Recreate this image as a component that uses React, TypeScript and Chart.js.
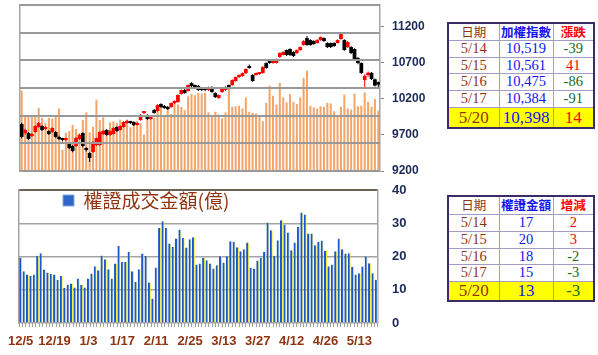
import React, { useEffect, useRef } from 'react';
import { Chart, registerables } from 'chart.js';

Chart.register(...registerables);

// ---------- data ----------
const DATES = ['12/5','12/6','12/7','12/10','12/11','12/12','12/13','12/14','12/17','12/18','12/19','12/20','12/21','12/22','12/24','12/25','12/26','12/27','12/28','1/2','1/3','1/4','1/7','1/8','1/9','1/10','1/11','1/14','1/15','1/16','1/17','1/18','1/21','1/22','1/23','1/24','1/25','1/28','1/29','1/30','2/11','2/12','2/13','2/14','2/15','2/18','2/19','2/20','2/21','2/22','2/25','2/26','2/27','3/4','3/5','3/6','3/7','3/8','3/11','3/12','3/13','3/14','3/15','3/18','3/19','3/20','3/21','3/22','3/25','3/26','3/27','3/28','3/29','4/1','4/2','4/3','4/8','4/9','4/10','4/11','4/12','4/15','4/16','4/17','4/18','4/19','4/22','4/23','4/24','4/25','4/26','4/29','4/30','5/2','5/3','5/6','5/7','5/8','5/9','5/10','5/13','5/14','5/15','5/16','5/17','5/20'];

const SHOWN_LABELS = ['12/5','12/19','1/3','1/17','2/11','2/25','3/13','3/27','4/12','4/26','5/13'];

const OPEN = [
  9851, 9726, 9726, 9685, 9740, 9809, 9823, 9782, 9754, 9740,
  9740, 9671, 9643, 9629, 9574, 9546, 9546, 9643, 9726, 9519,
  9449, 9463, 9560, 9560, 9712, 9768, 9699, 9712, 9809, 9768,
  9809, 9865, 9879, 9879, 9837, 9906, 10003, 9976, 9920, 10045,
  10031, 10128, 10100, 10086, 10086, 10142, 10156, 10266, 10322, 10308,
  10418, 10391, 10377, 10350, 10336, 10322, 10363, 10280, 10211, 10294,
  10322, 10391, 10391, 10447, 10502, 10516, 10557, 10640, 10530, 10530,
  10543, 10557, 10696, 10710, 10696, 10696, 10779, 10807, 10876, 10890,
  10848, 10834, 10876, 10945, 11042, 11014, 11000, 10973, 11014, 11042,
  10973, 10973, 10973, 10973, 11028, 11014, 10917, 10917, 10890, 10765,
  10696, 10460, 10530, 10560, 10470, 10430,
];

const CLOSE = [
  9671, 9768, 9643, 9712, 9823, 9865, 9768, 9809, 9712, 9796,
  9671, 9643, 9629, 9643, 9519, 9477, 9657, 9699, 9546, 9491,
  9380, 9602, 9657, 9740, 9754, 9699, 9754, 9796, 9754, 9823,
  9879, 9893, 9865, 9837, 9865, 9976, 10017, 9920, 9962, 10003,
  10114, 10086, 10073, 10059, 10142, 10170, 10253, 10322, 10280, 10391,
  10377, 10363, 10322, 10322, 10322, 10363, 10294, 10225, 10253, 10350,
  10363, 10350, 10460, 10502, 10530, 10557, 10613, 10627, 10447, 10557,
  10557, 10640, 10627, 10696, 10710, 10751, 10834, 10848, 10807, 10807,
  10793, 10876, 10917, 11000, 10945, 10945, 10959, 11014, 11056, 11000,
  10917, 10917, 10931, 11014, 11097, 10876, 10987, 10834, 10737, 10696,
  10558, 10519, 10561, 10475, 10384, 10398,
];

const HIGH = [
  9870, 9785, 9740, 9725, 9835, 9880, 9835, 9820, 9765, 9805,
  9750, 9690, 9660, 9655, 9590, 9560, 9670, 9715, 9735, 9530,
  9460, 9615, 9665, 9750, 9770, 9780, 9765, 9805, 9820, 9830,
  9890, 9905, 9895, 9890, 9875, 9990, 10030, 9985, 9975, 10060,
  10125, 10140, 10115, 10100, 10150, 10180, 10260, 10330, 10335, 10400,
  10430, 10400, 10390, 10360, 10345, 10370, 10375, 10290, 10260, 10360,
  10375, 10400, 10470, 10510, 10540, 10565, 10625, 10675, 10540, 10565,
  10570, 10650, 10705, 10725, 10720, 10760, 10845, 10860, 10885, 10900,
  10860, 10885, 10925, 11010, 11070, 11025, 11010, 11025, 11065, 11050,
  10985, 10980, 10985, 11025, 11111, 11025, 11000, 10930, 10900, 10780,
  10705, 10540, 10580, 10570, 10480, 10440,
];

const LOW = [
  9655, 9705, 9630, 9670, 9730, 9800, 9755, 9770, 9700, 9730,
  9660, 9630, 9610, 9615, 9505, 9460, 9535, 9630, 9530, 9470,
  9325, 9450, 9550, 9550, 9700, 9690, 9690, 9705, 9745, 9760,
  9800, 9855, 9850, 9825, 9830, 9895, 9990, 9905, 9910, 9995,
  10020, 10075, 10060, 10045, 10075, 10130, 10145, 10255, 10270, 10300,
  10365, 10350, 10310, 10310, 10305, 10310, 10285, 10210, 10200, 10285,
  10310, 10340, 10380, 10440, 10490, 10505, 10545, 10615, 10435, 10520,
  10535, 10550, 10615, 10685, 10685, 10690, 10770, 10800, 10795, 10795,
  10780, 10825, 10865, 10935, 10935, 10935, 10950, 10965, 11005, 10990,
  10905, 10905, 10920, 10965, 11020, 10865, 10905, 10820, 10725, 10680,
  10545, 10363, 10505, 10460, 10370, 10360,
];

const INDEX_VOLUME = [
  1450, 990, 1000, 975, 1010, 1140, 960, 870, 960, 945,
  975, 1130, 380, 690, 720, 830, 760, 680, 920, 1060,
  700, 800, 1290, 920, 970, 760, 880, 900, 870, 930,
  880, 930, 790, 830, 900, 860, 660, 930, 1010, 960,
  1130, 1200, 1000, 1150, 1030, 1240, 1200, 1160, 1100, 1350,
  1390, 1370, 1410, 1400, 1410, 1060, 1010, 1070, 1020, 950,
  1060, 1510, 1160, 1170, 1180, 1130, 1330, 1070, 1050, 1040,
  1010, 900, 1230, 1540, 1360, 1200, 1590, 1330, 1240, 1390,
  1250, 1210, 1330, 1680, 1810, 1180, 1150, 1130, 1170, 1160,
  1230, 1220, 1080, 1000, 1160, 1380, 1130, 1110, 1400, 1170,
  1180, 1420, 1250, 1160, 1300, 1090,
];

const WARRANT_VALUE = [
  19.6, 15.6, 14.6, 14.2, 14.6, 20.2, 21.0, 16.1, 15.2, 14.7,
  14.6, 12.9, 14.1, 10.6, 11.6, 11.9, 10.7, 13.4, 11.4, 10.7,
  13.4, 14.9, 17.1, 15.9, 20.3, 19.2, 16.2, 13.4, 17.9, 23.2,
  18.4, 18.4, 21.4, 15.6, 12.4, 16.2, 20.9, 20.2, 12.2, 7.4,
  16.7, 28.6, 30.6, 28.6, 23.9, 22.9, 25.4, 28.1, 25.6, 22.7,
  25.2, 25.8,
  17.6, 17.9, 19.6, 18.9, 17.9, 16.4, 17.4, 20.1, 18.2, 20.1,
  24.6, 24.4, 22.8, 21.6, 22.2, 24.2, 16.7, 16.4, 18.8, 19.6,
  21.4, 30.2, 27.9, 20.2, 24.9, 30.9, 29.6, 27.2, 21.9, 24.2,
  28.9, 33.2, 32.6, 26.9, 26.9, 23.4, 24.4, 24.8, 21.7, 17.1,
  17.6, 21.6, 25.4, 22.2, 20.9, 21.0, 16.9, 14.6,
  15, 17, 20, 18, 15, 13,
];

const PRICE_TICKS = [9200, 9700, 10200, 10700, 11200];
const VOLUME_GRID = [0, 500, 1000, 1500, 2000, 2500, 3000];
const WARRANT_LEGEND = '權證成交金額(億)';

const T1_HEAD = ['日期', '加權指數', '漲跌'];
const T1_DATES = ['5/14', '5/15', '5/16', '5/17', '5/20'];
const T1_INDEX = [10519, 10561, 10475, 10384, 10398];
const T1_CHANGE = [-39, 41, -86, -91, 14];

const T2_HEAD = ['日期', '權證金額', '增減'];
const T2_DATES = ['5/14', '5/15', '5/16', '5/17', '5/20'];
const T2_VALUE = [17, 20, 18, 15, 13];
const T2_CHANGE = [2, 3, -2, -3, -3];

// ---------- styles ----------
const AXIS_FONT = 'Liberation Sans';
const NAVY = '#1d2a57';
const BROWN = '#8f3411';
const GRID = '#a4a4a4';
const TOP_GRID = '#999999';
const CJK = '"Noto Sans CJK TC", "Noto Sans CJK SC", sans-serif';
const SERIF = '"Liberation Serif", "DejaVu Serif", serif';

function TopChart() {
  const ref = useRef<HTMLCanvasElement>(null);
  useEffect(() => {
    if (!ref.current) return;
    const candleColors = OPEN.map((o, i) => (CLOSE[i] >= o ? '#ff0000' : '#000000'));
    // horizontal grid of the hidden volume axis, placed through that scale
    const volumeGrid = {
      id: 'volumeGrid',
      afterDatasetsDraw(chart: any) {
        const s = chart.scales.yv;
        const a = chart.chartArea;
        const ctx = chart.ctx;
        ctx.save();
        ctx.strokeStyle = TOP_GRID;
        ctx.lineWidth = 2;
        VOLUME_GRID.forEach((v) => {
          const y = Math.round(s.getPixelForValue(v));
          ctx.beginPath();
          ctx.moveTo(a.left, y);
          ctx.lineTo(a.right, y);
          ctx.stroke();
        });
        ctx.restore();
      },
    };
    const chart = new Chart(ref.current, {
      type: 'bar',
      data: {
        labels: DATES,
        datasets: [
          {
            label: 'body',
            data: OPEN.map((o, i) => [o, CLOSE[i]]) as any,
            yAxisID: 'yp',
            backgroundColor: candleColors,
            barPercentage: 1.1,
            categoryPercentage: 1,
            grouped: false,
            order: 1,
            minBarLength: 2,
          } as any,
          {
            label: 'wick',
            data: LOW.map((l, i) => [l, HIGH[i]]) as any,
            yAxisID: 'yp',
            backgroundColor: candleColors,
            barPercentage: 0.3,
            categoryPercentage: 1,
            grouped: false,
            order: 2,
          } as any,
          {
            label: 'volume',
            data: INDEX_VOLUME,
            yAxisID: 'yv',
            backgroundColor: '#f3a56a',
            barPercentage: 0.6,
            categoryPercentage: 1,
            grouped: false,
            order: 3,
          } as any,
        ],
      },
      options: {
        animation: false,
        responsive: false,
        layout: { padding: { left: 20, top: 5, right: 0, bottom: 9 } },
        plugins: { legend: { display: false }, tooltip: { enabled: false } },
        scales: {
          x: { display: false, offset: true },
          yv: {
            position: 'left',
            min: 0,
            max: 3000,
            ticks: { display: false },
            grid: { display: false },
            border: { display: true, color: GRID, width: 1.5 },
            afterFit: (s: any) => { s.width = 0; s.paddingTop = 0; s.paddingBottom = 0; },
          },
          yp: {
            position: 'right',
            min: 9200,
            max: 11500,
            afterBuildTicks: (s: any) => { s.ticks = PRICE_TICKS.map((v) => ({ value: v })); },
            ticks: {
              color: NAVY,
              padding: 8,
              font: { family: AXIS_FONT, size: 12, weight: 'bold' },
              callback: (v: any) => String(v),
            },
            grid: { drawOnChartArea: false, tickLength: 4, color: '#8a8a8a' },
            border: { display: true, color: GRID, width: 1.5 },
            afterFit: (s: any) => { s.width = 60; s.paddingTop = 0; s.paddingBottom = 0; },
          },
        },
      } as any,
      plugins: [volumeGrid],
    });
    return () => chart.destroy();
  }, []);
  return (
    <canvas ref={ref} width={440} height={180}
      style={{ position: 'absolute', left: 0, top: 0, width: 440, height: 180 }} />
  );
}

function BottomChart() {
  const ref = useRef<HTMLCanvasElement>(null);
  useEffect(() => {
    if (!ref.current) return;
    const legendShift = {
      id: 'legendShift',
      afterLayout(chart: any) {
        const l = chart.legend;
        if (!l) return;
        const w = l.width;
        const h = l.height;
        l.left = chart.chartArea.left + 40;
        l.right = l.left + w;
        l.top = chart.chartArea.top - 3;
        l.bottom = l.top + h;
      },
    };
    const chart = new Chart(ref.current, {
      type: 'bar',
      data: {
        labels: DATES,
        datasets: [
          {
            label: WARRANT_LEGEND,
            data: WARRANT_VALUE,
            yAxisID: 'y',
            backgroundColor: '#1c57cc',
            borderColor: '#f4ee48',
            borderWidth: { left: 0, right: 1, top: 0, bottom: 0 },
            barPercentage: 0.88,
            categoryPercentage: 1,
          } as any,
        ],
      },
      options: {
        animation: false,
        responsive: false,
        layout: { padding: { left: 19, top: 10, right: 0, bottom: 0 } },
        plugins: {
          tooltip: { enabled: false },
          legend: {
            position: 'chartArea',
            align: 'start',
            labels: {
              boxWidth: 11,
              boxHeight: 11,
              padding: 4,
              color: BROWN,
              font: { family: CJK, size: 19 },
              generateLabels: () => [
                {
                  text: WARRANT_LEGEND,
                  fillStyle: '#2f66c6',
                  strokeStyle: '#7ea6e2',
                  lineWidth: 1,
                  hidden: false,
                  datasetIndex: 0,
                  fontColor: BROWN,
                },
              ],
            },
          },
        },
        scales: {
          x: {
            offset: true,
            ticks: {
              autoSkip: false,
              maxRotation: 0,
              minRotation: 0,
              padding: 7,
              color: BROWN,
              font: { family: AXIS_FONT, size: 13, weight: 'bold' },
              callback: (_v: any, i: number) => (SHOWN_LABELS.includes(DATES[i]) ? DATES[i] : ''),
            },
            grid: { drawOnChartArea: false, tickLength: 4, color: '#a0a0a0' },
            border: { display: false },
            afterFit: (s: any) => { s.height = 32; s.paddingLeft = 0; s.paddingRight = 0; },
          },
          yl: {
            position: 'left',
            min: 0,
            max: 40,
            ticks: { display: false },
            grid: { display: false },
            border: { display: true, color: GRID, width: 1.5 },
            afterFit: (s: any) => { s.width = 0; s.paddingTop = 0; s.paddingBottom = 0; },
          },
          y: {
            position: 'right',
            min: 0,
            max: 40,
            ticks: {
              stepSize: 10,
              padding: 14,
              color: NAVY,
              font: { family: AXIS_FONT, size: 13, weight: 'bold' },
            },
            grid: {
              drawTicks: false,
              color: (c: any) => (c.tick && c.tick.value === 40 ? '#6e6353' : GRID),
              lineWidth: (c: any) => (c.tick && c.tick.value === 40 ? 2 : 1.5),
            },
            border: { display: true, color: GRID, width: 1.5 },
            afterFit: (s: any) => { s.width = 62; s.paddingTop = 0; s.paddingBottom = 0; },
          },
        },
      } as any,
      plugins: [legendShift],
    });
    return () => chart.destroy();
  }, []);
  return (
    <canvas ref={ref} width={440} height={175}
      style={{ position: 'absolute', left: 0, top: 180, width: 440, height: 175 }} />
  );
}

const RED = '#ff0000';
const GREEN = '#1b6b1b';
const BLUE = '#1414f0';

function InfoTable(props: {
  left: number; top: number; rowHeights: number[]; head: string[];
  dates: string[]; values: string[]; changes: number[];
}) {
  const { left, top, rowHeights, head, dates, values, changes } = props;
  const headColors = [BROWN, BLUE, RED];
  const cellBase: React.CSSProperties = {
    border: '1px solid #a39bc6',
    padding: 0,
    textAlign: 'center',
    verticalAlign: 'middle',
    lineHeight: 1,
    whiteSpace: 'nowrap',
    overflow: 'hidden',
  };
  return (
    <table style={{
      position: 'absolute', left, top, width: 146, borderCollapse: 'collapse',
      tableLayout: 'fixed', border: '2px solid #3a2c6b', background: '#ffffff',
    }}>
      <colgroup>
        <col style={{ width: 51 }} />
        <col style={{ width: 54 }} />
        <col style={{ width: 41 }} />
      </colgroup>
      <tbody>
        <tr style={{ height: rowHeights[0] }}>
          {head.map((h, j) => (
            <td key={j} style={{
              ...cellBase, color: headColors[j], fontFamily: CJK, fontSize: 12.5,
              fontWeight: j === 0 ? 400 : 700,
            }}>{h}</td>
          ))}
        </tr>
        {dates.map((d, i) => {
          const last = i === dates.length - 1;
          const size = last ? 17 : 14.5;
          const bg = last ? '#ffff00' : '#ffffff';
          const ch = changes[i];
          return (
            <tr key={d} style={{ height: rowHeights[i + 1], background: bg }}>
              <td style={{ ...cellBase, color: BROWN, fontFamily: SERIF, fontSize: size }}>{d}</td>
              <td style={{ ...cellBase, color: BLUE, fontFamily: SERIF, fontSize: size }}>{values[i]}</td>
              <td style={{ ...cellBase, color: ch >= 0 ? RED : GREEN, fontFamily: SERIF, fontSize: size }}>{String(ch)}</td>
            </tr>
          );
        })}
      </tbody>
    </table>
  );
}

export default function App() {
  return (
    <div style={{
      position: 'fixed', left: 0, top: 0, width: 598, height: 355,
      background: '#ffffff', overflow: 'hidden',
    }}>
      <TopChart />
      <BottomChart />
      <InfoTable left={447} top={22} rowHeights={[17, 17, 16, 17, 17, 21]}
        head={T1_HEAD} dates={T1_DATES}
        values={T1_INDEX.map((v) => v.toLocaleString('en-US'))} changes={T1_CHANGE} />
      <InfoTable left={447} top={195} rowHeights={[18, 17, 17, 16, 17, 20]}
        head={T2_HEAD} dates={T2_DATES}
        values={T2_VALUE.map((v) => String(v))} changes={T2_CHANGE} />
    </div>
  );
}
